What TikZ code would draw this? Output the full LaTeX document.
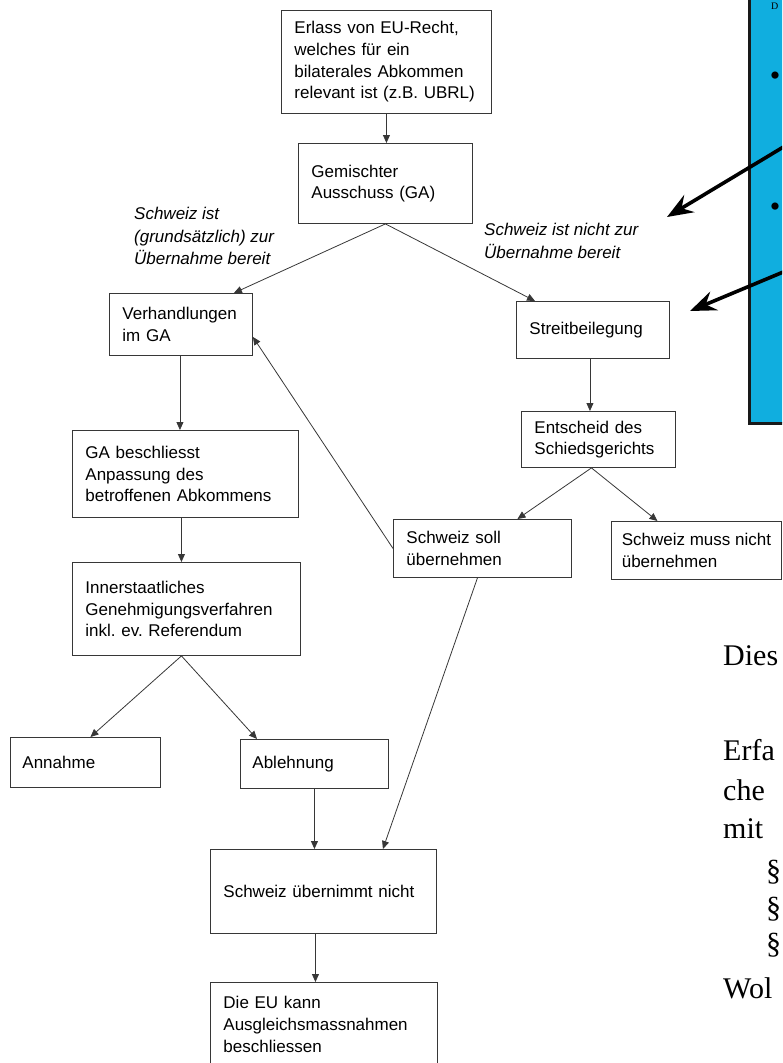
\documentclass[tikz,border=0pt]{standalone}
\usepackage{fontspec}
\setmainfont{Liberation Sans}
\newfontfamily\slidefont{Liberation Serif}
\usetikzlibrary{arrows.meta}
\frenchspacing

\definecolor{panelblue}{RGB}{16,174,223}
\definecolor{scanline}{RGB}{55,55,55}

\begin{document}
\begin{tikzpicture}[
    x=1pt, y=-1pt,
    >={Triangle[length=8pt, width=7pt]},
    box/.style={draw=scanline, line width=0.9pt, anchor=north west, align=left,
        inner xsep=13pt, inner ysep=0pt, font=\fontsize{17}{21.7}\selectfont},
    branch/.style={anchor=west, align=left, inner sep=0pt,
        font=\fontsize{17}{22.5}\selectfont\itshape},
    every edge/.style={draw=scanline, line width=0.8pt, ->},
    pointer/.style={draw=black, line width=3.6pt,
        -{Stealth[length=26pt, width=20pt, inset=9pt]}},
    slide/.style={anchor=base west, inner sep=0pt,
        font=\slidefont\fontsize{30}{36}\selectfont}
]
\useasboundingbox (0,0) rectangle (782,1063);
\clip (0,0) rectangle (782,1063);

% Blue panel on the right
\draw[line width=3pt, draw=black!90, fill=panelblue] (749,-10) rectangle (820,423);
\node[slide, font=\slidefont\fontsize{10}{12}\selectfont] (head) at (771,9) {D};
\node[slide, anchor=center] (dot1) at (775,79) {•};
\node[slide, anchor=center] (dot2) at (775,210) {•};

% Boxes of the flow chart
\node[box, text width=184pt, minimum height=103pt] (erlass) at (281,10)
    {Erlass von EU-Recht,\\welches für ein\\bilaterales Abkommen\\relevant ist (z.B. UBRL)};
\node[box, text width=148pt, minimum height=80pt] (ausschuss) at (298,143)
    {Gemischter\\Ausschuss (GA)};
\node[box, text width=117pt, minimum height=62pt] (verhandl) at (109,293)
    {Verhandlungen\\im GA};
\node[box, text width=127pt, minimum height=57pt] (streit) at (516,301)
    {Streitbeilegung};
\node[box, text width=128pt, minimum height=56pt] (entscheid) at (521,411)
    {Entscheid des\\Schiedsgerichts};
\node[box, text width=152pt, minimum height=58pt] (soll) at (393,519)
    {Schweiz soll\\übernehmen};
\node[box, inner xsep=0pt, minimum width=170pt, minimum height=58pt] (muss) at (611,521)
    {Schweiz muss nicht\\übernehmen};
\node[box, text width=200pt, minimum height=87pt] (beschl) at (72,430)
    {GA beschliesst\\Anpassung des\\betroffenen Abkommens};
\node[box, text width=202pt, minimum height=93pt] (inner) at (72,562)
    {Innerstaatliches\\Genehmigungsverfahren\\inkl. ev. Referendum};
\node[box, inner xsep=12pt, text width=126pt, minimum height=50pt] (annahme) at (10,737)
    {Annahme};
\node[box, inner xsep=12pt, text width=124pt, minimum height=49pt] (ablehn) at (240,739)
    {Ablehnung};
\node[box, text width=200pt, minimum height=84pt] (nimmt) at (210,849)
    {Schweiz übernimmt nicht};
\node[box, text width=201pt, minimum height=84pt] (eu) at (210,982)
    {Die EU kann\\Ausgleichsmassnahmen\\beschliessen};

% Branch labels
\node[branch] (ja) at (134,236) {Schweiz ist\\(grundsätzlich) zur\\Übernahme bereit};
\node[branch] (nein) at (484,241) {Schweiz ist nicht zur\\Übernahme bereit};

% Connectors
\path (erlass.south) edge (erlass.south |- ausschuss.north);
\path (ausschuss.south) edge ([xshift=-19pt]verhandl.north east);
\path (ausschuss.south) edge ([xshift=19pt]streit.north west);
\path ([xshift=-3pt]streit.south) edge ([xshift=-3pt]streit.south |- entscheid.north);
\path ([xshift=-7pt]entscheid.south) edge ([xshift=35pt]soll.north);
\path ([xshift=-7pt]entscheid.south) edge ([xshift=-39pt]muss.north);
\path (soll.west) edge ([yshift=19pt]verhandl.south east);
\path ([xshift=-5pt]soll.south) edge ([xshift=-54pt]nimmt.north east);
\path ([xshift=-1pt]verhandl.south) edge ([xshift=-1pt]verhandl.south |- beschl.north);
\path ([xshift=-4pt]beschl.south) edge ([xshift=-4pt]beschl.south |- inner.north);
\path ([xshift=-5pt]inner.south) edge ([xshift=5pt]annahme.north);
\path ([xshift=-5pt]inner.south) edge ([xshift=17pt]ablehn.north west);
\path (ablehn.south) edge (ablehn.south |- nimmt.north);
\path ([xshift=-8pt]nimmt.south) edge ([xshift=-8pt]nimmt.south |- eu.north);

% Thick pointers out of the blue panel
\coordinate (fromA) at (800,137);
\coordinate (toA) at (667,217);
\coordinate (fromB) at (800,265);
\coordinate (toB) at (690,311);
\draw[pointer] (fromA) -- (toA);
\draw[pointer] (fromB) -- (toB);

% Slide text at the right edge
\node[slide] (dies) at (723,665) {Dies};
\node[slide] (erfa) at (723,760) {Erfa};
\node[slide] (che) at (723,800) {che};
\node[slide] (mit) at (723,838) {mit};
\node[slide] (par1) at (766,880) {§};
\node[slide] (par2) at (766,917) {§};
\node[slide] (par3) at (766,953) {§};
\node[slide] (wol) at (723,998) {Wol};

\end{tikzpicture}
\end{document}
